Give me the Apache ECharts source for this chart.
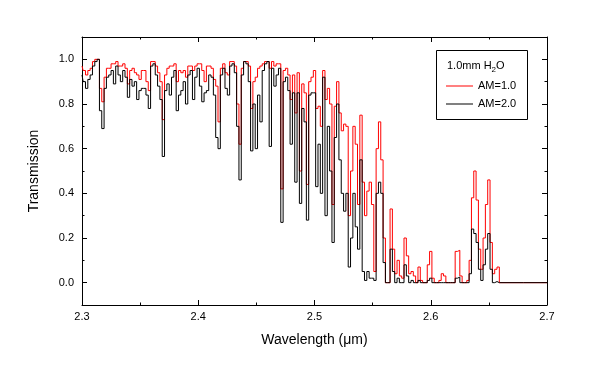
<!DOCTYPE html>
<html><head><meta charset="utf-8">
<script src="https://cdn.jsdelivr.net/npm/echarts@6/dist/echarts.min.js"></script>
<style>html,body{margin:0;padding:0;background:#fff}#c{width:591px;height:382px}</style>
</head><body><div id="c"></div>
<script>
const wavelength = [
2.300,2.302,2.304,2.306,2.308,2.310,2.312,2.314,2.316,2.318,
2.320,2.322,2.324,2.326,2.328,2.330,2.332,2.334,2.336,2.338,
2.340,2.342,2.344,2.346,2.348,2.350,2.352,2.354,2.356,2.358,
2.360,2.362,2.364,2.366,2.368,2.370,2.372,2.374,2.376,2.378,
2.380,2.382,2.384,2.386,2.388,2.390,2.392,2.394,2.396,2.398,
2.400,2.402,2.404,2.406,2.408,2.410,2.412,2.414,2.416,2.418,
2.420,2.422,2.424,2.426,2.428,2.430,2.432,2.434,2.436,2.438,
2.440,2.442,2.444,2.446,2.448,2.450,2.452,2.454,2.456,2.458,
2.460,2.462,2.464,2.466,2.468,2.470,2.472,2.474,2.476,2.478,
2.480,2.482,2.484,2.486,2.488,2.490,2.492,2.494,2.496,2.498,
2.500,2.502,2.504,2.506,2.508,2.510,2.512,2.514,2.516,2.518,
2.520,2.522,2.524,2.526,2.528,2.530,2.532,2.534,2.536,2.538,
2.540,2.542,2.544,2.546,2.548,2.550,2.552,2.554,2.556,2.558,
2.560,2.562,2.564,2.566,2.568,2.570,2.572,2.574,2.576,2.578,
2.580,2.582,2.584,2.586,2.588,2.590,2.592,2.594,2.596,2.598,
2.600,2.602,2.604,2.606,2.608,2.610,2.612,2.614,2.616,2.618,
2.620,2.622,2.624,2.626,2.628,2.630,2.632,2.634,2.636,2.638,
2.640,2.642,2.644,2.646,2.648,2.650,2.652,2.654,2.656,2.658,
2.660,2.700];
const am1 = [
0.97,0.95,0.93,0.95,0.96,0.99,1.00,1.00,0.87,0.81,
0.92,0.96,0.96,0.98,0.98,0.99,0.97,0.97,0.98,0.96,
0.89,0.95,0.96,0.94,0.93,0.91,0.95,0.95,0.90,0.86,
0.99,0.99,0.97,0.94,0.90,0.73,0.93,0.96,0.97,0.97,
0.98,0.90,0.95,0.94,0.95,0.92,0.97,0.97,0.95,0.97,
0.98,0.98,0.95,0.90,0.97,0.97,0.96,0.91,0.88,0.72,
0.96,0.98,0.94,0.93,0.99,0.99,0.97,0.80,0.62,0.96,
0.99,0.99,0.97,0.78,0.90,0.92,0.96,0.97,0.98,0.99,
0.99,0.96,0.99,0.97,0.98,0.98,0.42,0.95,0.96,0.93,
0.82,0.93,0.76,0.94,0.50,0.89,0.85,0.44,0.90,0.92,
0.95,0.78,0.79,0.70,0.95,0.82,0.87,0.80,0.35,0.79,
0.90,0.76,0.68,0.71,0.70,0.30,0.50,0.70,0.62,0.35,
0.75,0.45,0.30,0.41,0.45,0.35,0.05,0.60,0.72,0.55,
0.20,0.00,0.00,0.33,0.15,0.04,0.10,0.03,0.02,0.20,
0.12,0.04,0.05,0.03,0.00,0.07,0.01,0.00,0.00,0.08,
0.14,0.02,0.00,0.00,0.01,0.04,0.03,0.00,0.00,0.00,
0.00,0.14,0.145,0.03,0.00,0.00,0.01,0.10,0.38,0.50,
0.37,0.15,0.06,0.20,0.35,0.46,0.18,0.04,0.06,0.07,
0.00,0.00];
const am2 = [
0.93,0.90,0.87,0.91,0.93,0.97,0.99,1.00,0.77,0.69,
0.87,0.92,0.93,0.95,0.89,0.97,0.93,0.90,0.95,0.92,
0.83,0.91,0.88,0.90,0.82,0.86,0.87,0.87,0.84,0.78,
0.97,0.98,0.93,0.88,0.82,0.565,0.86,0.89,0.84,0.92,
0.95,0.77,0.84,0.86,0.90,0.80,0.93,0.95,0.82,0.92,
0.96,0.88,0.81,0.85,0.86,0.93,0.92,0.84,0.65,0.60,
0.93,0.96,0.87,0.84,0.97,0.98,0.94,0.70,0.46,0.93,
0.99,0.98,0.90,0.59,0.80,0.60,0.84,0.72,0.95,0.98,
0.99,0.61,0.96,0.88,0.93,0.96,0.27,0.90,0.92,0.86,
0.62,0.85,0.45,0.85,0.355,0.78,0.72,0.28,0.84,0.85,
0.85,0.43,0.62,0.40,0.92,0.30,0.70,0.50,0.18,0.65,
0.80,0.55,0.40,0.32,0.40,0.07,0.20,0.40,0.25,0.15,
0.55,0.05,0.01,0.05,0.02,0.02,0.01,0.40,0.45,0.40,
0.09,0.00,0.00,0.15,0.05,0.00,0.02,0.00,0.00,0.08,
0.03,0.00,0.01,0.00,0.00,0.01,0.00,0.00,0.00,0.01,
0.02,0.00,0.00,0.00,0.00,0.00,0.00,0.00,0.00,0.00,
0.00,0.02,0.025,0.00,0.00,0.00,0.00,0.04,0.24,0.22,
0.18,0.06,0.01,0.08,0.15,0.22,0.06,0.00,0.005,0.00,
0.00,0.00];
const seriesNames = ['AM=1.0', 'AM=2.0'];
const yMajorTicks = [0.0, 0.2, 0.4, 0.6, 0.8, 1.0];
const yMinorTicks = [0.1, 0.3, 0.5, 0.7, 0.9];

const FONT = 'Liberation Sans, Arial, Helvetica, sans-serif';
const chart = echarts.init(document.getElementById('c'), null, {renderer: 'canvas'});

function xAx(pos, labels) {
  const a = {
    type: 'value', position: pos, min: 2.3, max: 2.7, interval: 0.1,
    splitLine: {show: false},
    axisLine: {show: true, onZero: false, lineStyle: {color: '#000', width: 1}},
    axisTick: {show: true, inside: true, length: 5, lineStyle: {color: '#000'}},
    minorTick: {show: true, splitNumber: 2, length: 2.5, lineStyle: {color: '#000'}},
    axisLabel: {show: labels, margin: 6, fontSize: 11, color: '#000', fontFamily: FONT,
      formatter: v => v.toFixed(1)}
  };
  if (labels) {
    a.name = 'Wavelength (\u03bcm)';
    a.nameLocation = 'middle';
    a.nameGap = 28;
    a.nameTextStyle = {fontSize: 14, color: '#000', fontFamily: FONT};
  }
  return a;
}
function yAx(pos, ticks, len, labels, line) {
  const a = {
    type: 'value', position: pos, min: -0.1, max: 1.1, offset: 0,
    splitLine: {show: false},
    axisLine: {show: line, onZero: false, lineStyle: {color: '#000', width: 1}},
    axisTick: {show: true, inside: true, length: len, customValues: ticks, lineStyle: {color: '#000'}},
    axisLabel: {show: labels, customValues: yMajorTicks, margin: 8, fontSize: 11, color: '#000',
      fontFamily: FONT, formatter: v => v.toFixed(1)}
  };
  if (labels) {
    a.name = 'Transmission';
    a.nameLocation = 'middle';
    a.nameGap = 41;
    a.nameTextStyle = {fontSize: 14, color: '#000', fontFamily: FONT};
  }
  return a;
}

chart.setOption({
  animation: false,
  backgroundColor: '#fff',
  grid: {left: 82, top: 37, right: 44, bottom: 77, containLabel: false},
  xAxis: [xAx('bottom', true), xAx('top', false)],
  yAxis: [
    yAx('left', yMajorTicks, 5, true, true),
    yAx('left', yMinorTicks, 2.5, false, false),
    yAx('right', yMajorTicks, 5, false, true),
    yAx('right', yMinorTicks, 2.5, false, false)
  ],
  legend: {
    orient: 'vertical', left: 446, top: 79, icon: 'rect', itemWidth: 27, itemHeight: 1,
    itemGap: 4, padding: 0,
    textStyle: {fontSize: 11, color: '#000', fontFamily: FONT, lineHeight: 14},
    data: seriesNames
  },
  graphic: [
    {type: 'rect', shape: {x: 436.5, y: 50.5, width: 91, height: 69},
     style: {fill: 'rgba(0,0,0,0)', stroke: '#000', lineWidth: 1}, z: 10},
    {type: 'text', x: 447, y: 66, z: 10,
     style: {text: '{a|1.0mm H}{s|2}{a|O}', verticalAlign: 'middle',
       rich: {a: {fontSize: 11, fontFamily: FONT, fill: '#000', lineHeight: 14},
              s: {fontSize: 8, fontFamily: FONT, fill: '#000', lineHeight: 14, padding: [7, 0, 0, 0]}}}}
  ],
  series: [
    {name: seriesNames[0], type: 'line', step: 'middle', showSymbol: false, symbol: 'none',
     xAxisIndex: 0, yAxisIndex: 0, color: '#ff0000',
     lineStyle: {color: '#ff0000', width: 1},
     data: wavelength.map((w, i) => [w, am1[i]])},
    {name: seriesNames[1], type: 'line', step: 'middle', showSymbol: false, symbol: 'none',
     xAxisIndex: 0, yAxisIndex: 0, color: '#000000',
     lineStyle: {color: '#000000', width: 1},
     data: wavelength.map((w, i) => [w, am2[i]])}
  ]
});
</script></body></html>
